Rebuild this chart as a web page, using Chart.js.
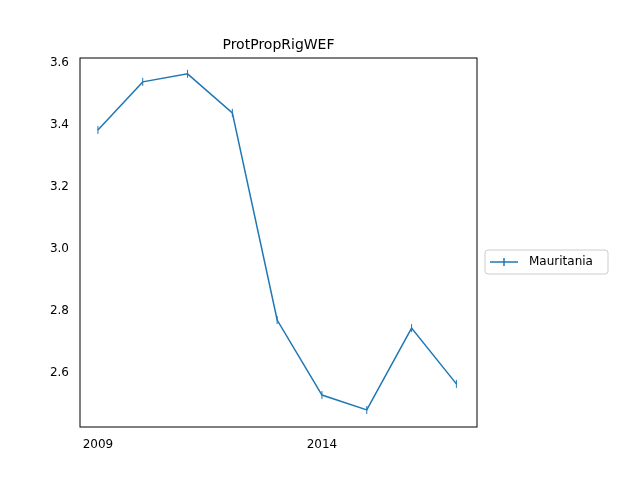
<!DOCTYPE html>
<html>
<head>
<meta charset="utf-8">
<script src="https://cdn.jsdelivr.net/npm/chart.js@4"></script>
<style>body{margin:0;background:#fff}#c{width:640px;height:480px}</style>
</head>
<body>
<div id="c"><canvas id="chart" width="640" height="480"></canvas></div>
<script>
// data
const years = [2009, 2010, 2011, 2012, 2013, 2014, 2015, 2016, 2017];
const values = [3.384, 3.539, 3.565, 3.439, 2.771, 2.529, 2.481, 2.745, 2.565];
const xTicks = [2009, 2014];
const yTicks = [2.6, 2.8, 3.0, 3.2, 3.4, 3.6];
const seriesName = 'Mauritania';
const chartTitle = 'ProtPropRigWEF';

const blue = '#1f77b4';
const font = { family: 'DejaVu Sans', size: 12 };

const extras = {
    id: 'extras',
    afterDraw(chart) {
        const c = chart.ctx, a = chart.chartArea;
        c.save();
        c.fillStyle = '#000';
        c.font = '14px "DejaVu Sans"';
        c.textAlign = 'center';
        c.textBaseline = 'bottom';
        c.fillText(chartTitle, (a.left + a.right) / 2, a.top - 6);
        // frame
        c.strokeStyle = '#000';
        c.lineWidth = 1;
        c.strokeRect(a.left, a.top, a.right - a.left, a.bottom - a.top);
        // legend
        const lx = 485, ly = 250, lw = 123, lh = 24;
        c.strokeStyle = '#ccc';
        c.beginPath();
        c.roundRect(lx, ly, lw, lh, 3);
        c.fillStyle = '#fff';
        c.fill();
        c.stroke();
        c.strokeStyle = blue;
        c.lineWidth = 1.5;
        c.beginPath();
        c.moveTo(lx + 5, ly + 12); c.lineTo(lx + 33, ly + 12);
        c.moveTo(lx + 19, ly + 8); c.lineTo(lx + 19, ly + 16);
        c.stroke();
        c.fillStyle = '#000';
        c.font = '12px "DejaVu Sans"';
        c.textAlign = 'left';
        c.textBaseline = 'middle';
        c.fillText(seriesName, lx + 44, ly + 12);
        c.restore();
    }
};

new Chart(document.getElementById('chart'), {
    type: 'line',
    data: {
        datasets: [{
            label: seriesName,
            data: years.map((y, i) => ({ x: y, y: values[i] })),
            borderColor: blue,
            backgroundColor: blue,
            borderWidth: 1.5,
            pointStyle: 'line',
            rotation: 90,
            pointRadius: 4,
            pointBorderWidth: 1,
            tension: 0
        }]
    },
    options: {
        responsive: false,
        animation: false,
        layout: { padding: { top: 58, right: 163, left: 0, bottom: 0 } },
        plugins: { legend: { display: false }, title: { display: false }, tooltip: { enabled: false } },
        scales: {
            x: {
                type: 'linear', min: 2008.6, max: 2017.46,
                afterFit(s) { s.height = 53; },
                afterBuildTicks(s) { s.ticks = xTicks.map(v => ({ value: v })); },
                grid: { display: false, drawTicks: true },
                border: { display: false },
                ticks: { color: '#000', font, callback: v => String(v) }
            },
            y: {
                min: 2.426, max: 3.616,
                afterFit(s) { s.width = 80; },
                afterBuildTicks(s) { s.ticks = yTicks.map(v => ({ value: v })); },
                grid: { display: false },
                border: { display: false },
                ticks: { color: '#000', font, callback: v => v.toFixed(1) }
            }
        }
    },
    plugins: [extras]
});
</script>
</body>
</html>
